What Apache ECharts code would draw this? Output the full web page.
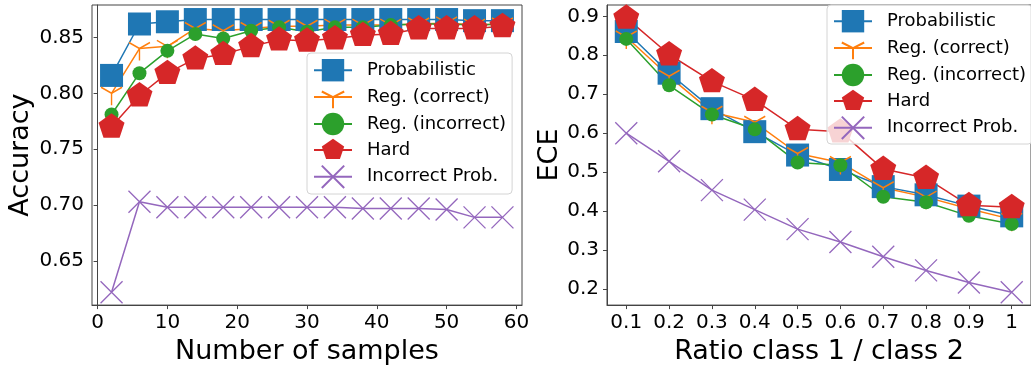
<!DOCTYPE html>
<html>
<head>
<meta charset="utf-8">
<script src="https://cdn.jsdelivr.net/npm/echarts@6/dist/echarts.min.js"></script>
<style>
  html, body { margin: 0; padding: 0; background: #fff; }
  #chart { width: 1031px; height: 370px; }
</style>
</head>
<body>
<div id="chart"></div>
<script>
// ---- data: left panel (accuracy vs number of samples) ----
const samples = [2, 6, 10, 14, 18, 22, 26, 30, 34, 38, 42, 46, 50, 54, 58];
const sampleTicks = [0, 10, 20, 30, 40, 50, 60];
const accTicks = [0.65, 0.70, 0.75, 0.80, 0.85];

const accProb      = [0.816, 0.862, 0.864, 0.866, 0.866, 0.866, 0.866, 0.866, 0.866, 0.866, 0.866, 0.866, 0.866, 0.865, 0.865];
const accRegCorr   = [0.800, 0.840, 0.842, 0.858, 0.856, 0.858, 0.860, 0.860, 0.861, 0.861, 0.861, 0.862, 0.863, 0.861, 0.862];
const accRegIncorr = [0.781, 0.818, 0.838, 0.853, 0.849, 0.856, 0.859, 0.855, 0.859, 0.859, 0.861, 0.862, 0.862, 0.861, 0.862];
const accHard      = [0.770, 0.798, 0.818, 0.831, 0.835, 0.842, 0.848, 0.847, 0.849, 0.852, 0.853, 0.858, 0.858, 0.858, 0.860];
const accIncProb   = [0.622, 0.703, 0.698, 0.698, 0.698, 0.698, 0.698, 0.698, 0.698, 0.697, 0.697, 0.697, 0.696, 0.689, 0.689];

// ---- data: right panel (ECE vs class ratio) ----
const ratios = [0.1, 0.2, 0.3, 0.4, 0.5, 0.6, 0.7, 0.8, 0.9, 1];
const ratioTicks = [0.1, 0.2, 0.3, 0.4, 0.5, 0.6, 0.7, 0.8, 0.9, 1];
const eceTicks = [0.2, 0.3, 0.4, 0.5, 0.6, 0.7, 0.8, 0.9];

const eceProb      = [0.861, 0.754, 0.663, 0.604, 0.544, 0.507, 0.463, 0.442, 0.413, 0.388];
const eceRegCorr   = [0.847, 0.746, 0.654, 0.628, 0.548, 0.525, 0.460, 0.436, 0.406, 0.379];
const eceRegIncorr = [0.842, 0.723, 0.648, 0.610, 0.525, 0.518, 0.437, 0.423, 0.388, 0.367];
const eceHard      = [0.896, 0.802, 0.733, 0.685, 0.610, 0.604, 0.508, 0.485, 0.415, 0.410];
const eceIncProb   = [0.600, 0.528, 0.454, 0.404, 0.354, 0.321, 0.283, 0.248, 0.217, 0.192];

const names = ['Probabilistic', 'Reg. (correct)', 'Reg. (incorrect)', 'Hard', 'Incorrect Prob.'];

// ---- styles ----
const FONT = 'DejaVu Sans';
const FRAME = '#444';
const PENTAGON = 'path://M0,10M0,-10L9.51,-3.09L5.88,8.09L-5.88,8.09L-9.51,-3.09Z';
// three separate strokes so the fill has no area
const TRI_DOWN = 'path://M0,-10M0,0L-8.66,-5M0,0L8.66,-5M0,0L0,10';
const CROSS = 'path://M-10,-10L10,10M-10,10L10,-10';

const markers = [
    { color: '#1f77b4', symbol: 'rect', size: 23, border: 0 },
    { color: '#ff7f0e', symbol: TRI_DOWN, size: [21, 24], border: 1.5 },
    { color: '#2ca02c', symbol: 'circle', size: 14, border: 0 },
    { color: '#d62728', symbol: PENTAGON, size: [26, 27], border: 0 },
    { color: '#9467bd', symbol: CROSS, size: 22, border: 1.3 }
];

function makeSeries(idx, xs, ys, gridIdx) {
    const m = markers[idx];
    return {
        name: names[idx],
        type: 'line',
        xAxisIndex: gridIdx,
        yAxisIndex: gridIdx,
        data: xs.map((x, i) => [x, ys[i]]),
        symbol: m.symbol,
        symbolSize: m.size,
        showAllSymbol: true,
        lineStyle: { color: m.color, width: 1.5 },
        itemStyle: { color: m.color, borderColor: m.color, borderWidth: m.border },
        emphasis: { disabled: true }
    };
}

function valueAxis(gridIdx, min, max, ticks, fmt, name, gap) {
    return {
        type: 'value',
        gridIndex: gridIdx,
        min: min,
        max: max,
        name: name,
        nameLocation: 'middle',
        nameGap: gap,
        nameTextStyle: { fontFamily: FONT, fontSize: 27, color: '#000' },
        axisLine: { show: true, lineStyle: { color: FRAME, width: 1 } },
        axisTick: { show: true, length: 4, customValues: ticks, lineStyle: { color: FRAME } },
        axisLabel: {
            customValues: ticks,
            formatter: fmt,
            fontFamily: FONT,
            fontSize: 20,
            color: '#000',
            margin: 8
        },
        splitLine: { show: false }
    };
}

function makeLegend(left, top, padding) {
    return {
        data: names,
        orient: 'vertical',
        left: left,
        top: top,
        padding: padding,
        itemWidth: 38,
        itemHeight: 28,
        itemGap: 3.5,
        selectedMode: false,
        backgroundColor: 'rgba(255,255,255,0.8)',
        borderColor: '#d4d4d4',
        borderWidth: 1,
        borderRadius: 4,
        textStyle: { fontFamily: FONT, fontSize: 18, color: '#000', padding: [0, 0, 0, 10] }
    };
}

document.addEventListener('DOMContentLoaded', function () {
    const chart = echarts.init(document.getElementById('chart'), null, { renderer: 'canvas' });

    const option = {
        animation: false,
        backgroundColor: '#fff',
        grid: [
            { left: 92, top: 5, width: 430, height: 308, show: true, borderColor: FRAME, borderWidth: 1 },
            { left: 607, top: 5, width: 430, height: 308, show: true, borderColor: FRAME, borderWidth: 1 }
        ],
        xAxis: [
            valueAxis(0, -0.8, 60.8, sampleTicks, v => String(v), 'Number of samples', 28),
            valueAxis(1, 0.055, 1.045, ratioTicks, v => (v === 1 ? '1' : v.toFixed(1)), 'Ratio class 1 / class 2', 28)
        ],
        yAxis: [
            valueAxis(0, 0.6105, 0.879, accTicks, v => v.toFixed(2), 'Accuracy', 58),
            valueAxis(1, 0.159, 0.929, eceTicks, v => v.toFixed(1), 'ECE', 44)
        ],
        legend: [
            makeLegend(307, 53, [6, 6, 5, 6]),
            makeLegend(827, 5, [5, 6, 4, 6])
        ],
        series: [
            makeSeries(0, samples, accProb, 0),
            makeSeries(1, samples, accRegCorr, 0),
            makeSeries(2, samples, accRegIncorr, 0),
            makeSeries(3, samples, accHard, 0),
            makeSeries(4, samples, accIncProb, 0),
            makeSeries(0, ratios, eceProb, 1),
            makeSeries(1, ratios, eceRegCorr, 1),
            makeSeries(2, ratios, eceRegIncorr, 1),
            makeSeries(3, ratios, eceHard, 1),
            makeSeries(4, ratios, eceIncProb, 1)
        ]
    };

    chart.setOption(option);
    window.addEventListener('resize', () => chart.resize());
});
</script>
</body>
</html>
